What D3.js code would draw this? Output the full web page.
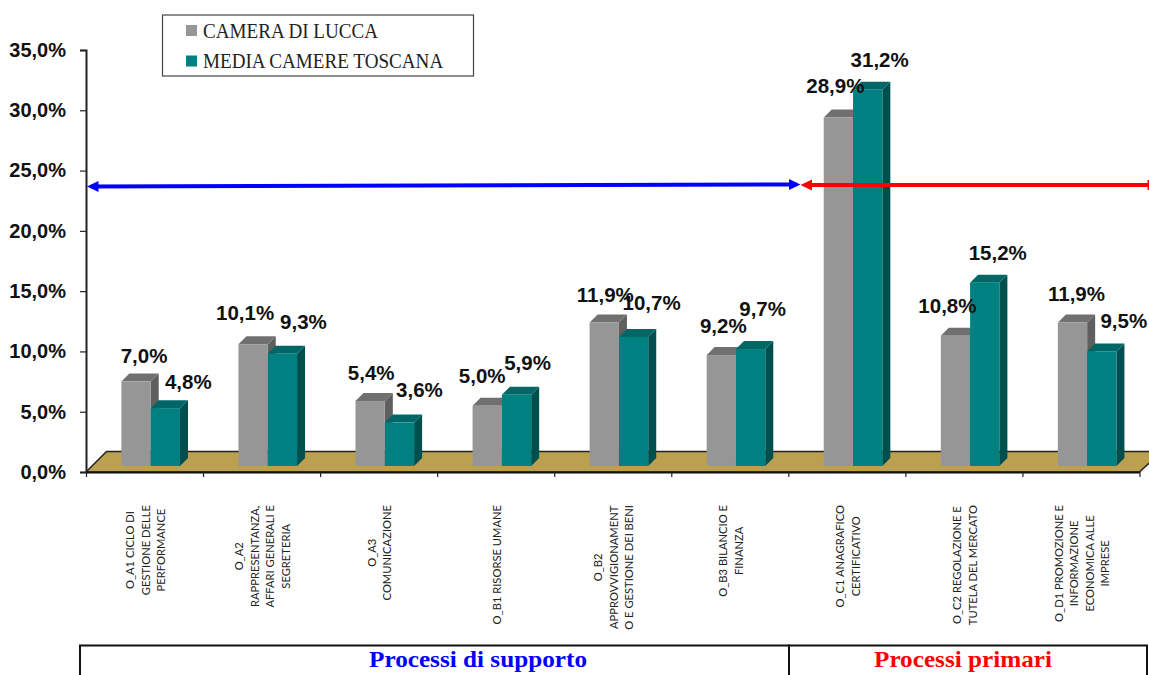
<!DOCTYPE html>
<html>
<head>
<meta charset="utf-8">
<script src="https://cdn.jsdelivr.net/npm/d3@7"></script>
<style>
  html, body { margin: 0; padding: 0; background: #fff; overflow: hidden; }
  svg { display: block; }
  .val { font: bold 20.5px "Liberation Sans", Arial, sans-serif; fill: #111; text-anchor: middle; }
  .ytick text { font: bold 20px "Liberation Sans", Arial, sans-serif; fill: #111; }
  .cat { font: 11.2px Lato, sans-serif; fill: #222; text-anchor: middle; }
  .leg { font: 20px "Liberation Serif", serif; fill: #222; }
  .proc { font: bold 24px "Liberation Serif", serif; text-anchor: middle; }
</style>
</head>
<body>
<svg id="chart" width="1149" height="675"></svg>
<script>
(function () {
  'use strict';
  const categories = [
    ['O_A1 CICLO DI', 'GESTIONE DELLE', 'PERFORMANCE'],
    ['O_A2', 'RAPPRESENTANZA,', 'AFFARI GENERALI E', 'SEGRETERIA'],
    ['O_A3', 'COMUNICAZIONE'],
    ['O_B1 RISORSE UMANE'],
    ['O_B2', 'APPROVVIGIONAMENT', 'O E GESTIONE DEI BENI'],
    ['O_B3 BILANCIO E', 'FINANZA'],
    ['O_C1 ANAGRAFICO', 'CERTIFICATIVO'],
    ['O_C2 REGOLAZIONE E', 'TUTELA DEL MERCATO'],
    ['O_D1 PROMOZIONE E', 'INFORMAZIONE', 'ECONOMICA ALLE', 'IMPRESE']
  ];
  const lucca = [7.0, 10.1, 5.4, 5.0, 11.9, 9.2, 28.9, 10.8, 11.9];
  const toscana = [4.8, 9.3, 3.6, 5.9, 10.7, 9.7, 31.2, 15.2, 9.5];
  const seriesNames = ['CAMERA DI LUCCA', 'MEDIA CAMERE TOSCANA'];
  const yTicks = [0, 5, 10, 15, 20, 25, 30, 35];

  // label nudges, the original labels were moved by hand
  const luccaNudge = [[8, -26], [-8, -32], [1, -28], [-5, -30], [1, -28], [2, -30], [-3, -32], [-8, -30], [4, -29]];
  const toscanaNudge = [[23, -27], [21, -32], [20, -33], [11, -32], [18, -34], [12, -41], [12, -30], [13, -30], [22, -31]];

  const colors = [
    { front: '#969696', top: '#707070', side: '#5f5f5f' },
    { front: '#008080', top: '#006666', side: '#004f4f' }
  ];

  const depth = 8;      // 3d offset of the bars
  const lift = 6;       // bars stand 6px above the axis line
  const left = 86, right = 1139.5, y0 = 472, y35 = 50;

  const svg = d3.select('#chart');
  const fmt = v => d3.format('.1f')(v).replace('.', ',') + '%';

  const x = d3.scaleBand().domain(d3.range(categories.length)).range([left, right]);
  const xEdge = d3.scaleLinear().domain([0, categories.length]).range([left, right]);
  const y = d3.scaleLinear().domain([0, 35]).range([y0, y35]);
  const barW = 29.3;
  const barOffset = 35.4;

  // floor
  svg.append('polygon')
    .attr('points', [[left, y0], [left + 20.5, y0 - 20.5], [1162, y0 - 20.5], [right, y0]].join(' '))
    .attr('fill', '#bba14f')
    .attr('stroke', '#222')
    .attr('stroke-width', 1.5);

  // axes
  const yAxis = d3.axisLeft(y).tickValues(yTicks).tickFormat(fmt).tickSize(6).tickPadding(14);
  const gy = svg.append('g').attr('class', 'ytick').attr('transform', 'translate(' + left + ',0)').call(yAxis);
  gy.select('.domain').attr('stroke', '#222').attr('stroke-width', 2);
  gy.selectAll('line').attr('stroke', '#222').attr('stroke-width', 1.2);

  const xAxis = d3.axisBottom(xEdge).ticks(categories.length).tickFormat('').tickSize(5).tickSizeOuter(0);
  const gx = svg.append('g').attr('transform', 'translate(0,' + y0 + ')').call(xAxis);
  gx.select('.domain').attr('stroke', '#111').attr('stroke-width', 2);
  gx.selectAll('line').attr('stroke', '#222').attr('stroke-width', 1.2);

  // bars
  function drawBars(values, idx) {
    const c = colors[idx];
    const g = svg.append('g').attr('class', 'series' + idx);
    const bx = i => x(i) + barOffset + idx * barW;
    const by = v => y(v) - lift;
    const base = y(0) - lift;

    g.selectAll('.side').data(values).enter().append('polygon')
      .attr('fill', c.side)
      .attr('points', (d, i) => {
        const r = bx(i) + barW;
        return [[r, by(d)], [r + depth, by(d) - depth], [r + depth, base - depth], [r, base]].join(' ');
      });
    g.selectAll('.top').data(values).enter().append('polygon')
      .attr('fill', c.top)
      .attr('points', (d, i) => {
        const l = bx(i);
        return [[l, by(d)], [l + depth, by(d) - depth], [l + barW + depth, by(d) - depth], [l + barW, by(d)]].join(' ');
      });
    g.selectAll('.front').data(values).enter().append('rect')
      .attr('x', (d, i) => bx(i))
      .attr('y', d => by(d))
      .attr('width', barW)
      .attr('height', d => base - by(d))
      .attr('fill', c.front);
  }
  drawBars(lucca, 0);
  drawBars(toscana, 1);

  // category labels, rotated, block starts 505 from the top
  categories.forEach(function (lines, i) {
    const cx = x(i) + x.bandwidth() / 2 + 1;
    const g = svg.append('g');
    const texts = lines.map(line => g.append('text').attr('class', 'cat').text(line));
    const longest = d3.max(texts, t => t.node().getComputedTextLength());
    const cy = 505 + longest / 2;
    const step = 15.6;
    texts.forEach(function (t, k) {
      const lx = cx + (k - (lines.length - 1) / 2) * step + 4;
      t.attr('transform', 'translate(' + lx + ',' + cy + ') rotate(-90)');
    });
  });

  // arrows
  function arrow(x1, y1, x2, y2, color, tail) {
    svg.append('line').attr('x1', x1 + 4).attr('y1', y1).attr('x2', x2 - 4).attr('y2', y2)
      .attr('stroke', color).attr('stroke-width', 4);
    const head = (tx, ty, dir) => svg.append('polygon')
      .attr('fill', color)
      .attr('points', [[tx, ty], [tx + dir * 11.5, ty - 5.5], [tx + dir * 11.5, ty + 5.5]].join(' '));
    head(x1, y1, 1);
    if (!tail) head(x2, y2, -1);
  }
  arrow(87, 186.5, 800.5, 184.5, '#0000ff', false);
  arrow(800.5, 185, 1153, 185, '#ff0000', true);
  svg.append('line').attr('x1', 1148.5).attr('x2', 1148.5).attr('y1', 180).attr('y2', 190)
    .attr('stroke', '#ff0000').attr('stroke-width', 2);

  // value labels
  function drawLabels(values, nudge, idx) {
    svg.append('g').selectAll('text').data(values).enter().append('text')
      .attr('class', 'val')
      .attr('x', (d, i) => x(i) + barOffset + idx * barW + barW / 2 + nudge[i][0])
      .attr('y', (d, i) => y(d) - lift + nudge[i][1] + 7.5)
      .text(fmt);
  }
  drawLabels(lucca, luccaNudge, 0);
  drawLabels(toscana, toscanaNudge, 1);

  // legend
  svg.append('rect').attr('x', 162.5).attr('y', 15).attr('width', 311).attr('height', 61)
    .attr('fill', '#fff').attr('stroke', '#444').attr('stroke-width', 1.2);
  seriesNames.forEach(function (name, i) {
    svg.append('rect').attr('x', 186).attr('y', 25 + i * 30.5).attr('width', 11).attr('height', 11)
      .attr('fill', colors[i].front);
    const t = svg.append('text').attr('class', 'leg').attr('x', 203).attr('y', 37.5 + i * 30.5).text(name);
    t.attr('textLength', t.node().getComputedTextLength() * 0.955).attr('lengthAdjust', 'spacingAndGlyphs');
  });

  // process boxes along the bottom
  const boxes = [
    { name: 'Processi di supporto', from: 80, to: 789, mid: 478, width: 218, color: '#0000ff' },
    { name: 'Processi primari', from: 789, to: 1147, mid: 963, width: 178, color: '#ff0000' }
  ];
  boxes.forEach(function (b) {
    svg.append('rect').attr('x', b.from).attr('y', 645.5).attr('width', b.to - b.from).attr('height', 40)
      .attr('fill', 'none').attr('stroke', '#111').attr('stroke-width', 2);
    svg.append('text').attr('class', 'proc').attr('x', b.mid).attr('y', 667)
      .attr('textLength', b.width).attr('lengthAdjust', 'spacingAndGlyphs')
      .attr('fill', b.color).text(b.name);
  });
}());
</script>
</body>
</html>
